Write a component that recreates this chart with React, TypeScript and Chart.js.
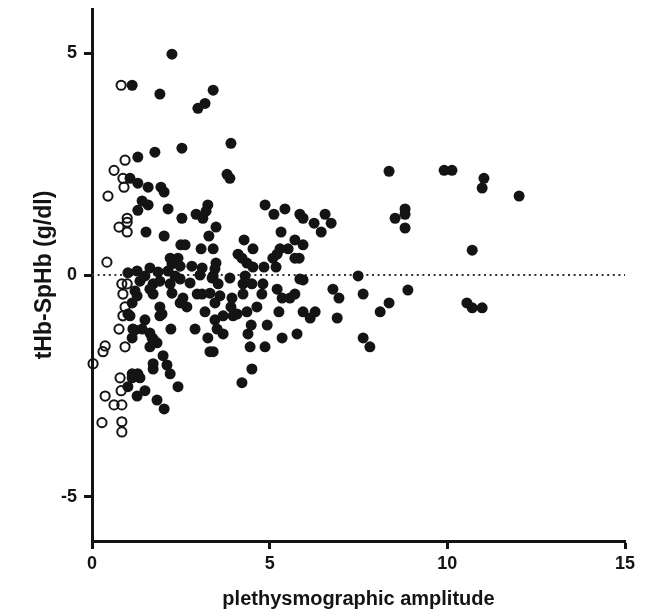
import React, { useEffect, useRef } from "react";
import { Chart, registerables } from "chart.js";

Chart.register(...registerables);

const xTicks = [0, 5, 10, 15];
const yTicks = [-5, 0, 5];
const xTitle = "plethysmographic amplitude";
const yTitle = "tHb-SpHb (g/dl)";

// open circles (low amplitude group)
const openPoints: [number, number][] = [
  [0.82, 4.28], [0.93, 2.59], [0.62, 2.36], [0.87, 2.18], [0.9, 1.98], [0.45, 1.78], [0.99, 1.28], [0.99, 1.19],
  [0.76, 1.08], [0.99, 0.97], [0.42, 0.29], [0.84, -0.2], [0.99, -0.2], [0.87, -0.43], [0.93, -0.72], [0.87, -0.92],
  [0.76, -1.22], [0.93, -1.62], [0.37, -1.6], [0.31, -1.73], [0.03, -2.0], [0.79, -2.32], [0.82, -2.61], [0.37, -2.73],
  [0.62, -2.93], [0.84, -2.93], [0.28, -3.33], [0.84, -3.31], [0.84, -3.54],
];

// filled circles
const filledPoints: [number, number][] = [
  [2.25, 4.98], [1.13, 4.28], [1.91, 4.08], [3.41, 4.17], [3.18, 3.87], [2.98, 3.76], [3.91, 2.97], [2.53, 2.86], [1.77, 2.77], [1.29, 2.66],
  [3.8, 2.27], [3.88, 2.18], [1.07, 2.18], [1.29, 2.07], [1.58, 1.98], [1.94, 1.98], [2.03, 1.87], [1.41, 1.67], [1.58, 1.58], [1.29, 1.46],
  [2.14, 1.49], [2.53, 1.28], [2.93, 1.37], [3.12, 1.28], [3.21, 1.44], [3.26, 1.58], [1.52, 0.97], [2.03, 0.88], [3.49, 1.08], [3.29, 0.88],
  [2.5, 0.68], [2.62, 0.68], [3.07, 0.59], [3.41, 0.59], [2.2, 0.38], [2.42, 0.38], [2.25, 0.25], [2.48, 0.2], [2.81, 0.2], [3.1, 0.16],
  [1.01, 0.05], [1.27, 0.09], [1.63, 0.16], [1.86, 0.07], [4.87, 1.58], [5.12, 1.37], [5.43, 1.49], [5.85, 1.37], [5.94, 1.28], [6.25, 1.17],
  [6.56, 1.37], [6.73, 1.17], [6.45, 0.97], [5.32, 0.97], [4.28, 0.79], [4.53, 0.59], [5.71, 0.79], [5.94, 0.68], [5.52, 0.59], [5.29, 0.59],
  [5.71, 0.38], [5.83, 0.38], [4.11, 0.47], [4.22, 0.38], [4.36, 0.27], [4.53, 0.18], [5.09, 0.38], [5.21, 0.47], [3.49, 0.27], [3.46, 0.14],
  [3.04, 0.0], [4.84, 0.18], [5.18, 0.18], [4.31, -0.02], [3.41, -0.02], [3.88, -0.07], [8.36, 2.34], [8.53, 1.28], [7.49, -0.02], [5.94, -0.11],
  [6.78, -0.32], [6.95, -0.52], [7.63, -0.43], [8.36, -0.63], [8.11, -0.83], [5.26, -0.83], [5.21, -0.32], [5.35, -0.52], [5.57, -0.52], [5.71, -0.43],
  [5.94, -0.83], [6.28, -0.83], [6.14, -0.97], [6.9, -0.97], [4.64, -0.72], [4.81, -0.2], [4.78, -0.43], [4.25, -0.2], [4.5, -0.2], [4.25, -0.43],
  [4.93, -1.13], [4.48, -1.13], [4.39, -1.33], [5.35, -1.42], [5.77, -1.33], [7.63, -1.42], [7.82, -1.62], [4.45, -1.62], [4.87, -1.62], [3.26, -1.42],
  [3.32, -1.73], [3.41, -1.73], [4.5, -2.12], [4.22, -2.43], [3.46, -1.01], [3.69, -1.33], [3.52, -1.22], [3.97, -0.92], [4.08, -0.88], [4.36, -0.83],
  [3.91, -0.72], [3.18, -0.83], [3.46, -0.63], [1.13, -0.63], [1.07, -0.92], [1.91, -0.72], [1.91, -0.92], [1.15, -1.22], [1.49, -1.01], [1.41, -1.22],
  [1.13, -1.42], [1.63, -1.31], [1.69, -1.42], [1.83, -1.53], [1.63, -1.62], [2.22, -1.22], [2.9, -1.22], [2.48, -0.63], [2.67, -0.72], [2.0, -1.82],
  [2.11, -2.03], [2.2, -2.23], [1.72, -2.0], [1.72, -2.12], [1.13, -2.23], [1.29, -2.23], [1.13, -2.32], [1.35, -2.32], [1.01, -2.52], [1.49, -2.61],
  [1.27, -2.73], [1.83, -2.82], [2.03, -3.02], [2.42, -2.52], [1.21, -0.36], [1.27, -0.47], [1.72, -0.2], [1.72, -0.43], [1.63, -0.32], [2.2, -0.2],
  [2.25, -0.41], [2.56, -0.52], [2.96, -0.43], [3.1, -0.43], [1.97, -0.88], [1.01, -0.88], [1.21, -1.24], [1.72, -1.44], [3.38, -0.07], [3.55, -0.2],
  [3.32, -0.41], [3.6, -0.47], [5.85, -0.09], [3.94, -0.52], [3.69, -0.92], [8.89, -0.34], [10.55, -0.63], [10.7, -0.74], [10.98, -0.74], [10.7, 0.56],
  [8.81, 1.49], [8.81, 1.37], [8.81, 1.06], [9.91, 2.36], [10.13, 2.36], [11.03, 2.18], [10.98, 1.96], [12.02, 1.78], [1.35, -0.14], [1.91, -0.14],
  [2.48, -0.09], [2.76, -0.18], [1.49, -0.02], [2.14, 0.09], [2.34, -0.02],
];

const zeroLine: [number, number][] = [
  [0, 0],
  [15, 0],
];

const INK = "#141414";
const FONT = "'Liberation Sans', Arial, Helvetica, sans-serif";

export default function App() {
  const ref = useRef<HTMLCanvasElement | null>(null);

  useEffect(() => {
    if (!ref.current) return;
    const toXY = (arr: [number, number][]) => arr.map(([x, y]) => ({ x, y }));
    const chart = new Chart(ref.current, {
      type: "scatter",
      data: {
        datasets: [
          {
            label: "zero",
            data: toXY(zeroLine),
            showLine: true,
            borderColor: "#333",
            borderWidth: 2,
            borderDash: [2, 3.6],
            pointRadius: 0,
            order: 3,
          },
          {
            label: "filled",
            data: toXY(filledPoints),
            backgroundColor: INK,
            borderColor: INK,
            borderWidth: 0,
            pointRadius: 5.5,
            order: 2,
            clip: false,
          },
          {
            label: "open",
            data: toXY(openPoints),
            backgroundColor: "rgba(255,255,255,0)",
            borderColor: INK,
            borderWidth: 2,
            pointRadius: 4.6,
            order: 1,
            clip: false,
          },
        ],
      },
      options: {
        animation: false,
        responsive: true,
        maintainAspectRatio: false,
        layout: { padding: { left: 0, right: 22, top: 9, bottom: 0 } },
        plugins: { legend: { display: false }, tooltip: { enabled: false } },
        scales: {
          x: {
            type: "linear",
            min: 0,
            max: 15,
            afterBuildTicks: (s: any) => {
              s.ticks = xTicks.map((v) => ({ value: v }));
            },
            afterFit: (s: any) => {
              s.height = 72;
              s.paddingLeft = 0;
              s.paddingRight = 0;
            },
            grid: {
              display: true,
              drawOnChartArea: false,
              drawTicks: true,
              tickLength: 8,
              tickWidth: 3,
              tickColor: INK,
              color: INK,
            },
            border: { display: true, color: INK, width: 3 },
            ticks: {
              color: INK,
              padding: 4,
              maxRotation: 0,
              font: { family: FONT, size: 18, weight: "bold" },
              callback: (v: any) => String(v),
            },
            title: {
              display: true,
              text: xTitle,
              color: INK,
              font: { family: FONT, size: 20, weight: "bold" },
              padding: { top: 0, bottom: 2 },
            },
          },
          y: {
            type: "linear",
            min: -6,
            max: 6,
            afterBuildTicks: (s: any) => {
              s.ticks = yTicks.map((v) => ({ value: v }));
            },
            afterFit: (s: any) => {
              s.width = 92;
              s.paddingTop = 0;
              s.paddingBottom = 0;
            },
            grid: {
              display: true,
              drawOnChartArea: false,
              drawTicks: true,
              tickLength: 8,
              tickWidth: 3,
              tickColor: INK,
              color: INK,
            },
            border: { display: true, color: INK, width: 3 },
            ticks: {
              color: INK,
              padding: 7,
              font: { family: FONT, size: 18, weight: "bold" },
              callback: (v: any) => String(v),
            },
            title: {
              display: true,
              text: yTitle,
              color: INK,
              font: { family: FONT, size: 23, weight: "bold" },
              padding: { top: 31, bottom: 0 },
            },
          },
        },
      },
    });
    return () => chart.destroy();
  }, []);

  return (
    <div style={{ position: "fixed", left: 0, top: 0, width: 647, height: 613, background: "#fff" }}>
      <canvas ref={ref} />
    </div>
  );
}
